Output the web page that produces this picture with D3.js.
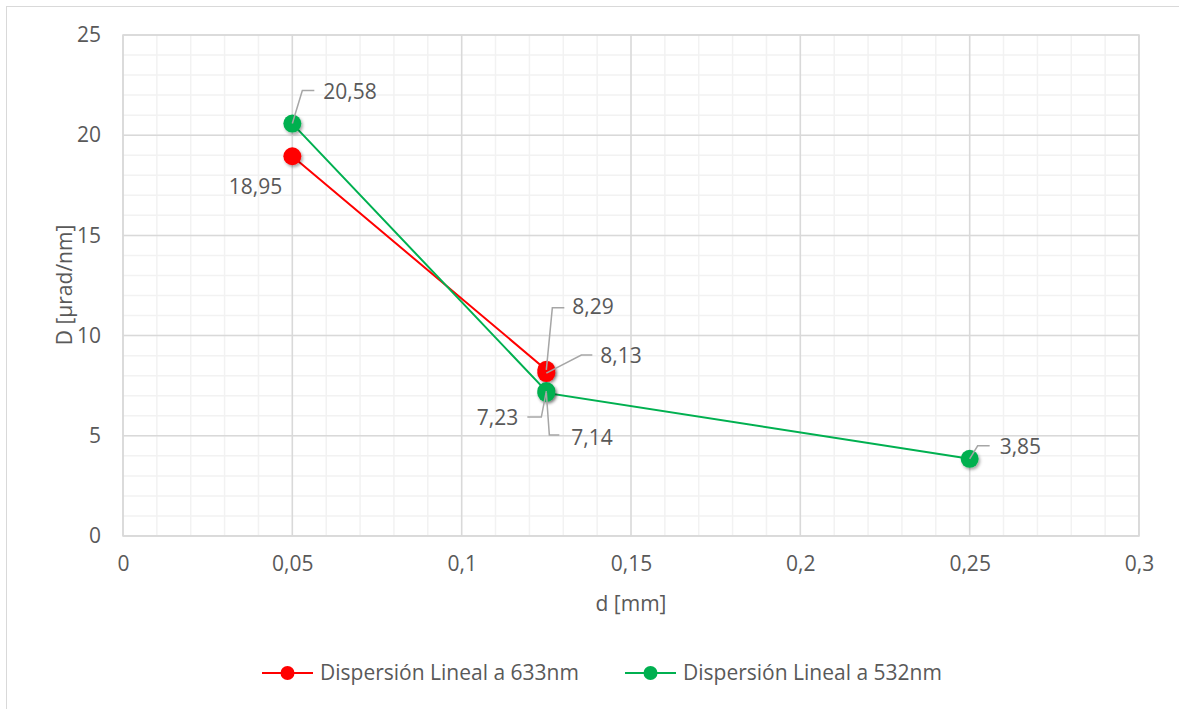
<!DOCTYPE html>
<html lang="es">
<head>
  <meta charset="UTF-8">
  <title>Dispersión lineal</title>
  <style>
    body { margin: 0; background: #fff; }
    svg { display: block; font-family: "Open Sans", sans-serif; }
    text { fill: #595959; }
  </style>
</head>
<body>
  <svg width="1179" height="709"></svg>
  <script src="https://d3js.org/d3.v7.min.js"></script>
  <script>
    // series: [d (mm), D (µrad/nm)]
    const seriesNames = ["Dispersión Lineal a 633nm", "Dispersión Lineal a 532nm"];
    const seriesColors = ["#ff0000", "#00b050"];
    const red633 = [[0.05, 18.95], [0.125, 8.29], [0.125, 8.13]];
    const green532 = [[0.05, 20.58], [0.125, 7.23], [0.125, 7.14], [0.25, 3.85]];
    const xTicks = [0, 0.05, 0.1, 0.15, 0.2, 0.25, 0.3];
    const yTicks = [0, 5, 10, 15, 20, 25];

    const FS = 21;

    // label offsets from the point, leader line elbow and end
    const labelPos = [
      [{ dx: -10, dy: 30, anchor: "end", lead: false },
       { dx: 26, dy: -63, anchor: "start", lead: true, elbow: [6, -62], end: [18, -62] },
       { dx: 54, dy: -17, anchor: "start", lead: true, elbow: [35, -18], end: [46, -18] }],
      [{ dx: 31, dy: -32, anchor: "start", lead: true, elbow: [10, -33], end: [22, -33] },
       { dx: -28, dy: 27, anchor: "end", lead: true, elbow: [-5, 26], end: [-19, 26] },
       { dx: 25, dy: 45, anchor: "start", lead: true, elbow: [3, 42], end: [13, 42] },
       { dx: 30, dy: -12, anchor: "start", lead: true, elbow: [8, -13], end: [20, -13] }]
    ];

    const fmt = v => String(v).replace(".", ",");
    const svg = d3.select("svg");

    // chart area border
    svg.append("rect").attr("x", 6.5).attr("y", 6.5).attr("width", 1300).attr("height", 800)
      .attr("fill", "none").attr("stroke", "#d9d9d9");

    const x = d3.scaleLinear().domain([0, 0.3]).range([123, 1139]);
    const y = d3.scaleLinear().domain([0, 25]).range([536, 35]);

    const grid = svg.append("g");
    // minor grid
    grid.selectAll(".mx").data(d3.range(0, 31).map(i => i / 100)).enter().append("line")
      .attr("x1", d => x(d)).attr("x2", d => x(d)).attr("y1", y(0)).attr("y2", y(25))
      .attr("stroke", "#f2f2f2").attr("stroke-width", 1.5);
    grid.selectAll(".my").data(d3.range(0, 26)).enter().append("line")
      .attr("x1", x(0)).attr("x2", x(0.3)).attr("y1", d => y(d)).attr("y2", d => y(d))
      .attr("stroke", "#f2f2f2").attr("stroke-width", 1.5);
    // major grid
    grid.selectAll(".Mx").data(xTicks).enter().append("line")
      .attr("x1", d => x(d)).attr("x2", d => x(d)).attr("y1", y(0)).attr("y2", y(25))
      .attr("stroke", "#d9d9d9").attr("stroke-width", 1.5);
    grid.selectAll(".My").data(yTicks).enter().append("line")
      .attr("x1", x(0)).attr("x2", x(0.3)).attr("y1", d => y(d)).attr("y2", d => y(d))
      .attr("stroke", "#d9d9d9").attr("stroke-width", 1.5);
    grid.append("rect").attr("x", x(0)).attr("y", y(25)).attr("width", x(0.3) - x(0)).attr("height", y(0) - y(25))
      .attr("fill", "none").attr("stroke", "#d9d9d9").attr("stroke-width", 1.5);

    // axes
    const xAxis = svg.append("g").attr("transform", `translate(0,${y(0)})`)
      .call(d3.axisBottom(x).tickValues(xTicks).tickFormat(fmt).tickSize(0).tickPadding(20));
    const yAxis = svg.append("g").attr("transform", `translate(${x(0)},0)`)
      .call(d3.axisLeft(y).tickValues(yTicks).tickFormat(fmt).tickSize(0).tickPadding(22));
    [xAxis, yAxis].forEach(a => {
      a.select(".domain").remove();
      a.attr("font-size", FS).attr("font-family", "'Open Sans', sans-serif");
      a.selectAll("text").attr("fill", "#595959");
    });

    svg.append("text").attr("x", 631).attr("y", 611).attr("text-anchor", "middle")
      .attr("font-size", FS).text("d [mm]");
    svg.append("text").attr("transform", "translate(72,285) rotate(-90)").attr("text-anchor", "middle")
      .attr("font-size", FS).text("D [µrad/nm]");

    const defs = svg.append("defs");
    const f = defs.append("filter").attr("id", "sh").attr("x", "-50%").attr("y", "-50%").attr("width", "200%").attr("height", "200%");
    f.append("feDropShadow").attr("dx", 1.5).attr("dy", 2).attr("stdDeviation", 1.5).attr("flood-color", "#000").attr("flood-opacity", 0.35);

    const allSeries = [red633, green532];
    const line = d3.line().x(d => x(d[0])).y(d => y(d[1]));

    allSeries.forEach((data, i) => {
      svg.append("path").datum(data).attr("d", line).attr("fill", "none")
        .attr("stroke", seriesColors[i]).attr("stroke-width", 2);
    });
    allSeries.forEach((data, i) => {
      svg.append("g").selectAll("circle").data(data).enter().append("circle")
        .attr("cx", d => x(d[0])).attr("cy", d => y(d[1])).attr("r", 9)
        .attr("fill", seriesColors[i]).attr("filter", "url(#sh)");
    });

    // data labels with leader lines
    allSeries.forEach((data, i) => {
      data.forEach((d, j) => {
        const p = labelPos[i][j];
        const px = x(d[0]), py = y(d[1]);
        if (p.lead) {
          svg.append("polyline")
            .attr("points", [[px, py], [px + p.elbow[0], py + p.elbow[1]], [px + p.end[0], py + p.end[1]]].map(q => q.join(",")).join(" "))
            .attr("fill", "none").attr("stroke", "#a6a6a6").attr("stroke-width", 1.5);
        }
        svg.append("text").attr("x", px + p.dx).attr("y", py + p.dy).attr("dy", "0.35em")
          .attr("text-anchor", p.anchor).attr("font-size", FS).text(fmt(d[1]));
      });
    });

    // legend
    const legX = [262, 625];
    const lg = svg.append("g").selectAll("g").data(seriesNames).enter().append("g")
      .attr("transform", (d, i) => `translate(${legX[i]},673)`);
    lg.append("line").attr("x1", 0).attr("x2", 51).attr("stroke", (d, i) => seriesColors[i]).attr("stroke-width", 2);
    lg.append("circle").attr("cx", 25.5).attr("r", 7).attr("fill", (d, i) => seriesColors[i]);
    lg.append("text").attr("x", 58).attr("dy", "0.35em").attr("font-size", FS).text(d => d);
  </script>
</body>
</html>
